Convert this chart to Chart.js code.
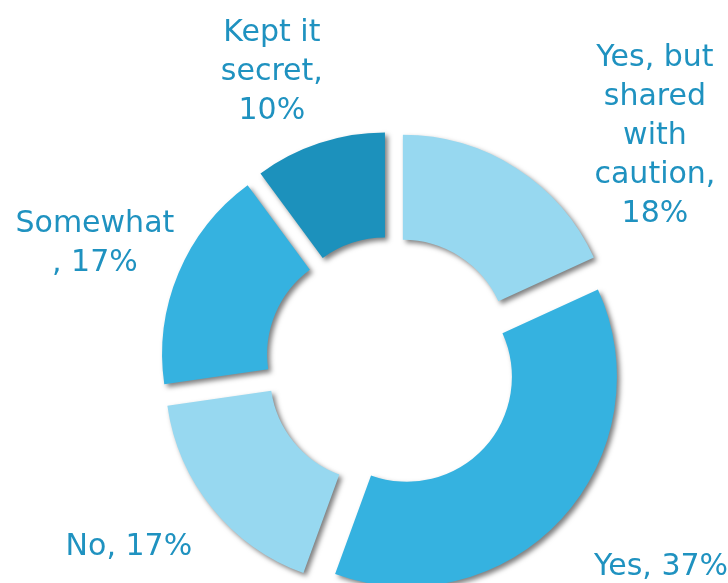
<!DOCTYPE html>
<html>
<head>
<meta charset="utf-8">
<script src="https://cdn.jsdelivr.net/npm/chart.js@4/dist/chart.umd.min.js"></script>
<style>
  html, body { margin: 0; padding: 0; background: #fff; }
  #wrap { width: 728px; height: 583px; }
</style>
</head>
<body>
<div id="wrap">
  <canvas id="myChart" width="728" height="583"></canvas>
</div>
<script>
// survey answers, clockwise from 12 o'clock
const categories = ['Yes, but shared with caution', 'Yes', 'No', 'Somewhat', 'Kept it secret'];
const shares = [18, 37, 17, 17, 10];

const sliceColors = ['#97d8f0', '#35b2e0', '#97d8f0', '#35b2e0', '#1c91bc'];
const textColor = '#1f92c0';

// how far each slice is pulled out from the centre (px)
const explode = 21;

// label placement: turn from the slice's mid angle (deg) and distance in outer radii
const labelTurn = [16.2, -6.0, 4.4, -0.3, -4.0];
const labelDist = [1.664, 1.601, 1.521, 1.528, 1.509];
const labelWrap = [150, 260, 260, 162, 140];
const labelFont = '30px "DejaVu Sans"';
const lineHeight = 39;

const wrapText = (ctx, text, maxW) => {
  const lines = [];
  let line = '';
  text.split(' ').forEach((word) => {
    const test = line ? line + ' ' + word : word;
    if (ctx.measureText(test).width <= maxW) {
      line = test;
      return;
    }
    if (line) lines.push(line);
    line = word;
    // a word that can't fit on its own hands its comma to the next line
    if (ctx.measureText(line).width > maxW && line.endsWith(',')) {
      lines.push(line.slice(0, -1));
      line = ',';
    }
  });
  if (line) lines.push(line);
  return lines;
};

const explodedSlices = {
  id: 'explodedSlices',
  beforeDatasetDraw(chart, args) {
    const ctx = chart.ctx;
    ctx.save();
    ctx.shadowColor = 'rgba(0, 0, 0, 0.5)';
    ctx.shadowBlur = 5;
    ctx.shadowOffsetX = 3;
    ctx.shadowOffsetY = 3;
    args.meta.data.forEach((arc) => {
      const mid = (arc.startAngle + arc.endAngle) / 2;
      ctx.save();
      ctx.translate(Math.cos(mid) * explode, Math.sin(mid) * explode);
      arc.draw(ctx);
      ctx.restore();
    });
    ctx.restore();
    return false;
  },
};

const sliceLabels = {
  id: 'sliceLabels',
  afterDraw(chart) {
    const ctx = chart.ctx;
    const meta = chart.getDatasetMeta(0);
    ctx.save();
    ctx.font = labelFont;
    ctx.fillStyle = textColor;
    ctx.textAlign = 'center';
    ctx.textBaseline = 'alphabetic';
    meta.data.forEach((arc, i) => {
      const ang = (arc.startAngle + arc.endAngle) / 2 + labelTurn[i] * Math.PI / 180;
      const r = arc.outerRadius * labelDist[i];
      const x = arc.x + Math.cos(ang) * r;
      const y = arc.y + Math.sin(ang) * r;
      const text = categories[i] + ', ' + shares[i] + '%';
      const lines = wrapText(ctx, text, labelWrap[i]);
      lines.forEach((ln, k) => {
        const ly = y + (k - (lines.length - 1) / 2) * lineHeight + 11;
        ctx.fillText(ln, x, ly);
      });
    });
    ctx.restore();
  },
};

const data = {
  labels: categories,
  datasets: [
    {
      data: shares,
      backgroundColor: sliceColors,
      borderWidth: 0,
    },
  ],
};

const config = {
  type: 'doughnut',
  data: data,
  options: {
    responsive: false,
    animation: false,
    cutout: '50%',
    layout: {
      padding: { left: 55, right: 0, top: 152.5, bottom: 10.5 },
    },
    plugins: {
      legend: { display: false },
      tooltip: { enabled: false },
    },
  },
  plugins: [explodedSlices, sliceLabels],
};

new Chart(document.getElementById('myChart'), config);
</script>
</body>
</html>
